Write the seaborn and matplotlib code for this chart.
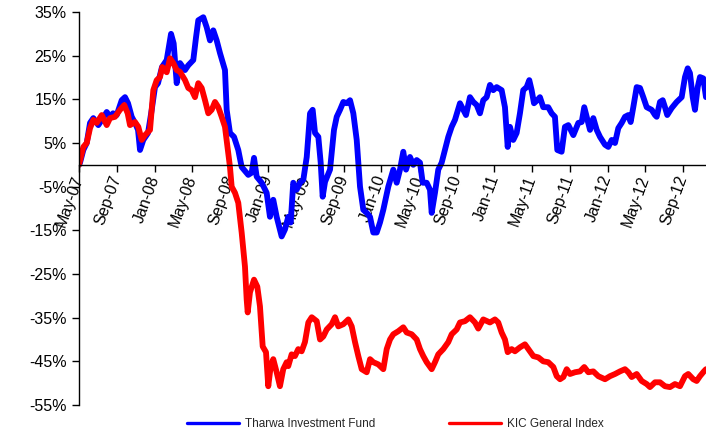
import numpy as np
import pandas as pd
import matplotlib
matplotlib.use("Agg")
import matplotlib.pyplot as plt
import matplotlib.dates as mdates
from matplotlib.lines import Line2D
import seaborn as sns

# ---------------- data (months since May-2007, cumulative return %) ----------------
fund_months = [
    0.00, 0.11, 0.46, 0.82, 1.17, 1.52, 2.05, 2.55, 2.94, 3.29,
    3.61, 4.00, 4.53, 4.88, 5.20, 5.59, 5.94, 6.26, 6.47, 6.82,
    7.32, 7.71, 8.06, 8.38, 8.80, 9.30, 9.76, 10.04, 10.36, 10.71,
    11.24, 11.59, 12.12, 12.41, 12.65, 13.18, 13.54, 13.89, 14.24, 14.60,
    14.95, 15.48, 15.66, 16.01, 16.44, 16.89, 17.25, 17.95, 18.31, 18.56,
    18.84, 19.37, 19.90, 20.25, 20.60, 20.96, 21.49, 21.84, 22.19, 22.45,
    22.72, 23.08, 23.44, 23.79, 24.15, 24.50, 24.78, 25.03, 25.38, 25.63,
    25.84, 26.09, 26.62, 27.04, 27.33, 27.68, 28.03, 28.39, 28.74, 29.09,
    29.45, 29.80, 30.15, 30.51, 30.86, 31.21, 31.57, 31.92, 32.27, 32.80,
    33.33, 33.69, 34.04, 34.39, 34.68, 35.10, 35.45, 35.81, 36.16, 36.45,
    36.87, 37.22, 37.40, 37.75, 38.10, 38.46, 38.81, 39.16, 39.52, 39.87,
    40.40, 40.75, 41.04, 41.46, 41.81, 42.17, 42.52, 42.87, 43.23, 43.58,
    43.93, 44.29, 44.82, 45.17, 45.46, 45.70, 46.05, 46.41, 46.76, 47.11,
    47.47, 47.75, 48.00, 48.25, 48.60, 48.88, 49.23, 49.76, 50.12, 50.47,
    50.72, 51.18, 51.53, 51.89, 52.42, 52.95, 53.31, 53.58, 53.84, 54.19,
    54.54, 54.90, 55.25, 55.78, 56.13, 56.49, 56.84, 57.19, 57.55, 57.90,
    58.25, 58.50, 58.78, 59.14, 59.49, 59.84, 60.20, 60.73, 61.08, 61.26,
    61.61, 61.90, 62.14, 62.38, 62.85, 63.38, 63.91, 64.26, 64.55, 64.79,
    65.08, 65.32, 65.61, 65.85, 66.20, 66.49,
]
fund_values = [
    0, 0.5, 3.4, 5, 9.6, 10.7, 9.1, 10.7, 12.1, 11,
    11.8, 11.4, 14.8, 15.5, 14.1, 11, 9.6, 8, 3.4, 5.7,
    7.3, 12.6, 17.8, 18.7, 22.4, 24, 30, 27.8, 18.7, 23.3,
    21.7, 22.8, 24, 29.2, 33.1, 33.8, 31.5, 28.5, 30.8, 28.5,
    25.6, 21.7, 12.6, 7.3, 6.4, 3.4, -0.5, -2.3, -1.8, 1.6,
    -2.7, -4.1, -6.4, -11.9, -8, -11.9, -16.4, -14.8, -11.9, -13.2,
    -4.1, -5.7, -4.1, -3.4, 1.8, 11.8, 12.6, 7.3, 6.4, 0.5,
    -7.3, -3.9, -1.1, 8, 11, 12.6, 14.4, 14.1, 14.8, 11.8,
    5.7, -5, -10.3, -11, -11.9, -15.5, -15.5, -13.2, -10.3, -5,
    -1.1, -4.1, -1.1, 3, -1.1, 1.8, 0, 1.1, 0.5, -4.1,
    -4.1, -5.7, -11, -6.4, -1.1, 0.5, 3.4, 6.4, 8.7, 10.3,
    14.1, 12.6, 11.4, 15.5, 14.4, 13.7, 11.8, 14.8, 15.5, 18.3,
    17.1, 17.8, 17.1, 13.2, 4.1, 8.7, 5.7, 7.3, 11.8, 17.1,
    17.8, 19.4, 17.1, 14.1, 14.8, 15.5, 13.2, 13.2, 11.8, 11,
    3.4, 3, 8.7, 9.1, 6.8, 9.6, 9.8, 13.2, 11, 8,
    10.7, 8, 6.4, 4.6, 4.1, 5.7, 5, 8.4, 9.6, 11,
    11.4, 9.8, 13.2, 17.8, 17.6, 15.5, 13.2, 12.6, 11.4, 11,
    14.4, 14.8, 13.2, 11.4, 13, 14.4, 15.5, 20.1, 22.1, 21,
    15.5, 12.6, 17.8, 20.1, 19.8, 15.5,
]

index_months = [
    0.00, 0.46, 0.82, 1.17, 1.52, 1.88, 2.41, 2.94, 3.29, 3.82,
    4.35, 4.80, 5.16, 5.41, 5.94, 6.29, 6.65, 7.00, 7.53, 7.88,
    8.24, 8.59, 8.83, 9.30, 9.65, 10.00, 10.36, 10.71, 11.24, 11.59,
    11.95, 12.30, 12.65, 13.01, 13.36, 13.71, 14.07, 14.42, 14.77, 15.13,
    15.48, 15.83, 16.01, 16.19, 16.54, 16.89, 17.25, 17.60, 17.78, 17.89,
    18.13, 18.56, 18.91, 19.19, 19.48, 19.83, 20.07, 20.33, 20.60, 20.96,
    21.31, 21.66, 22.02, 22.19, 22.55, 22.90, 23.25, 23.61, 23.96, 24.32,
    24.68, 25.21, 25.56, 25.91, 26.27, 26.80, 27.15, 27.50, 28.03, 28.56,
    28.92, 29.27, 29.62, 29.98, 30.51, 30.86, 31.21, 31.74, 32.27, 32.63,
    32.98, 33.33, 33.86, 34.39, 34.75, 35.28, 35.81, 36.16, 36.51, 36.87,
    37.40, 37.75, 38.10, 38.63, 39.16, 39.52, 40.05, 40.40, 40.93, 41.46,
    41.99, 42.34, 42.87, 43.58, 44.11, 44.46, 44.82, 45.17, 45.46, 45.88,
    46.23, 46.76, 47.29, 47.65, 48.18, 48.71, 49.23, 49.76, 50.30, 50.66,
    51.01, 51.36, 51.72, 52.07, 52.60, 53.13, 53.58, 54.01, 54.54, 55.07,
    55.78, 56.31, 56.84, 57.37, 57.90, 58.25, 58.61, 59.14, 59.67, 60.20,
    60.55, 61.08, 61.61, 62.14, 62.67, 63.20, 63.73, 64.26, 64.61, 65.14,
    65.50, 65.85, 66.27, 66.49,
]
index_values = [
    0, 4.1, 5, 8.4, 10.3, 9.6, 11.4, 9.1, 10.7, 11,
    12.6, 13.7, 11.8, 9.1, 9.8, 8.7, 5.7, 6.8, 8, 17.1,
    19.4, 20.1, 22.4, 21.2, 24.4, 23.3, 21.7, 21.3, 19.4, 17.6,
    17.1, 15.5, 18.7, 17.6, 14.8, 11.8, 12.6, 14.4, 13.2, 11,
    8.7, 2.7, -0.5, -5, -6.4, -8.7, -15.5, -23.3, -30.8, -33.8,
    -29.2, -26.3, -27.9, -32.4, -41.6, -42.9, -50.7, -46.1, -44.5, -47.5,
    -50.7, -46.8, -45.2, -46.1, -43.4, -43.8, -42.2, -42.7, -40.6, -36.1,
    -34.9, -35.8, -40, -39.3, -37.7, -36.5, -34.9, -37, -36.5, -35.4,
    -37, -40.6, -43.8, -46.8, -47.5, -44.5, -45.2, -45.7, -46.8, -42.2,
    -40, -38.8, -38.1, -37.2, -38.4, -38.8, -40, -42.2, -43.8, -45.2,
    -46.8, -45.2, -43.4, -42.2, -40.6, -38.8, -37.7, -36.1, -35.8, -34.9,
    -36.1, -37.5, -35.4, -36.1, -35.4, -36.1, -38.4, -40, -42.9, -42.2,
    -42.7, -41.8, -41.1, -42.2, -43.8, -44.1, -45, -45.2, -46.3, -48.4,
    -49.1, -48.6, -46.8, -47.9, -47.5, -47.3, -46.3, -47.5, -47.3, -48.4,
    -49.1, -48.4, -47.9, -47.3, -46.8, -47.5, -48.6, -47.9, -49.5, -50.2,
    -50.9, -49.8, -49.8, -50.7, -50.9, -50.2, -50.7, -48.4, -47.9, -49.1,
    -49.5, -48.4, -47.3, -46.8,
]

series_names = ["Tharwa Investment Fund", "KIC General Index"]
series_colors = ["#0000FF", "#FF0000"]
y_ticks = [-55, -45, -35, -25, -15, -5, 5, 15, 25, 35]
start_date = "2007-05-01"

# ---------------- build frame ----------------
start = pd.Timestamp(start_date)
def to_dates(months):
    return start + pd.to_timedelta(np.array(months) * 30.4375, unit="D")

df_fund = pd.DataFrame({"date": to_dates(fund_months), "value": fund_values,
                        "series": series_names[0]})
df_index = pd.DataFrame({"date": to_dates(index_months), "value": index_values,
                         "series": series_names[1]})

sns.set_style("white")
plt.rcParams["font.family"] = ["Liberation Sans", "DejaVu Sans"]

fig = plt.figure(figsize=(7.06, 4.34), dpi=100)
ax = fig.add_axes([79 / 706, 1 - 405 / 434, 1 - 79 / 706, 393 / 434])

sns.lineplot(data=df_fund, x="date", y="value", color=series_colors[0],
             linewidth=4.2, ax=ax, legend=False, solid_joinstyle="round",
             solid_capstyle="round")
sns.lineplot(data=df_index, x="date", y="value", color=series_colors[1],
             linewidth=4.2, ax=ax, legend=False, solid_joinstyle="round",
             solid_capstyle="round")

ax.set_ylim(-55, 35)
ax.set_xlim(df_fund["date"].min(), df_fund["date"].max())
ax.set_xlabel("")
ax.set_ylabel("")

ax.set_yticks(y_ticks)
ax.set_yticklabels([f"{t}%" for t in y_ticks], fontsize=11.5, color="black")

ax.xaxis.set_major_locator(mdates.MonthLocator(bymonth=[1, 5, 9]))
ax.xaxis.set_major_formatter(mdates.DateFormatter("%b-%y"))

for s in ["top", "right"]:
    ax.spines[s].set_visible(False)
ax.spines["bottom"].set_position(("data", 0))
ax.spines["left"].set_color("black")
ax.spines["bottom"].set_color("black")
ax.spines["left"].set_linewidth(1.0)
ax.spines["bottom"].set_linewidth(1.0)
ax.tick_params(axis="y", direction="out", length=5, width=1, color="black", pad=4, left=True)
ax.tick_params(axis="x", direction="out", length=5, width=1, color="black", pad=3,
               bottom=True, labelsize=11.5, labelcolor="black", labelrotation=70)
ax.grid(False)

fig.canvas.draw()
for lbl in ax.get_xticklabels():
    lbl.set_ha("right")
    lbl.set_va("center")
    lbl.set_rotation_mode("anchor")

handles = [Line2D([0], [0], color=c, lw=2.4) for c in series_colors]
fig.legend(handles, series_names, loc="center", bbox_to_anchor=(0.56, 0.022),
           ncol=2, frameon=False, fontsize=8.5, handlelength=4.4,
           handletextpad=0.5, columnspacing=6.3)

fig.savefig("out.png", dpi=100)
